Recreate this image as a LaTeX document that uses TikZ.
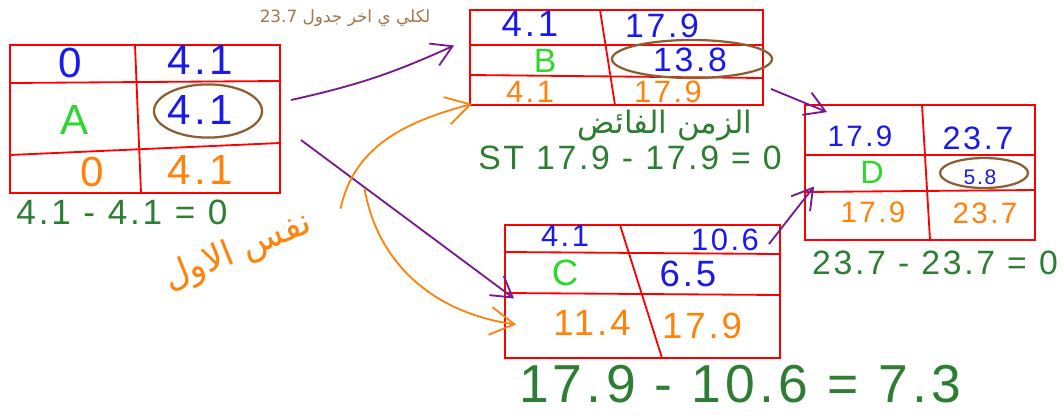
\documentclass[tikz,border=0pt]{standalone}
\usepackage{fontspec}
\setmainfont{Liberation Sans}
\newfontfamily\handfont[LetterSpace=8]{Liberation Sans}
\newfontfamily\arabicfont[Script=Arabic]{DejaVu Sans}
\TeXXeTstate=1
\usepackage{tikz}
\usetikzlibrary{arrows.meta, positioning, shapes.geometric}

\definecolor{esblue}{RGB}{25,25,235}
\definecolor{namegreen}{RGB}{45,215,45}
\definecolor{lforange}{RGB}{255,130,10}
\definecolor{calcgreen}{RGB}{45,125,50}
\definecolor{flowpurple}{RGB}{120,25,145}
\definecolor{ringbrown}{RGB}{140,95,50}
\definecolor{notetan}{RGB}{160,120,75}

\tikzset{
  pertbox/.style={draw=red, line width=1.3pt, inner sep=0pt},
  gridln/.style={red, line width=1.3pt},
  early/.style={text=esblue, inner sep=1pt},
  late/.style={text=lforange, inner sep=1pt},
  actname/.style={text=namegreen, inner sep=1pt},
  ring/.style={draw=ringbrown, ellipse, line width=1.6pt, inner sep=0pt},
  calc/.style={text=calcgreen, inner sep=1pt},
  flow/.style={flowpurple, line width=1.3pt, -{Straight Barb[length=5mm,width=6mm]}},
  lateflow/.style={lforange, line width=1.3pt, -{Straight Barb[length=6mm,width=7mm]}}
}
\newcommand{\hsz}[1]{\handfont\fontsize{#1}{#1}\selectfont}

\begin{document}
\begin{tikzpicture}[x=0.025cm, y=-0.025cm]
\useasboundingbox (0,0) rectangle (1064,415);

% note on top
\node[text=notetan, font=\fontsize{12}{14}\selectfont] (note) at (345,18)
  {\arabicfont\beginR لكلي ي اخر جدول \beginL23.7\endL\endR};

% activity A
\node[pertbox, minimum width=6.75cm, minimum height=3.7cm] (tA) at (145,119) {};
\draw[gridln] (135,45) -- (141,193);
\draw[gridln] (10,83) -- (280,81);
\draw[gridln] (10,155) -- (280,143);
\node[early, font=\hsz{30}] (esA) at (70,63) {0};
\node[early, font=\hsz{30}] (efA) at (200,60) {4.1};
\node[actname, font=\hsz{30}] (nA) at (75,120) {A};
\node[early, font=\hsz{30}] (duA) at (200,110) {4.1};
\node[ring, minimum width=2.7cm, minimum height=1.33cm] (rA) at (208,111) {};
\node[late, font=\hsz{30}] (lsA) at (92,172) {0};
\node[late, font=\hsz{30}] (lfA) at (200,170) {4.1};
\node[calc, font=\hsz{25}] (eqA) at (122,212) {4.1 - 4.1 = 0};

% activity B
\node[pertbox, minimum width=7.325cm, minimum height=2.375cm] (tB) at (616.5,57.5) {};
\draw[gridln] (600,10) -- (615,105);
\draw[gridln] (470,45) -- (763,45);
\draw[gridln] (470,75) -- (763,78);
\node[early, font=\hsz{26}] (esB) at (530,24) {4.1};
\node[early, font=\hsz{24}] (efB) at (662,26) {17.9};
\node[actname, font=\hsz{24}] (nB) at (545,61) {B};
\node[early, font=\hsz{24}] (duB) at (690,60) {13.8};
\node[ring, minimum width=4cm, minimum height=0.95cm] (rB) at (692,59) {};
\node[late, font=\hsz{22}] (lsB) at (530,92) {4.1};
\node[late, font=\hsz{22}] (lfB) at (668,92) {17.9};
\node[calc, font=\arabicfont\fontsize{22}{24}\selectfont] (slack) at (665,126)
  {\beginR الزمن الفائض\endR};
\node[calc, font=\hsz{24}] (eqB) at (630,158) {ST 17.9 - 17.9 = 0};

% activity C
\node[pertbox, minimum width=6.875cm, minimum height=3.325cm] (tC) at (642.5,291.5) {};
\draw[gridln] (620,225) -- (662,358);
\draw[gridln] (505,252) -- (780,254);
\draw[gridln] (505,293) -- (780,295);
\node[early, font=\hsz{22}] (esC) at (565,236) {4.1};
\node[early, font=\hsz{22}] (efC) at (725,240) {10.6};
\node[actname, font=\hsz{26}] (nC) at (565,273) {C};
\node[early, font=\hsz{26}] (duC) at (688,274) {6.5};
\node[late, font=\hsz{26}] (lsC) at (592,323) {11.4};
\node[late, font=\hsz{26}] (lfC) at (702,326) {17.9};
\node[calc, font=\hsz{38}] (eqC) at (740,384) {17.9 - 10.6 = 7.3};

% activity D
\node[pertbox, minimum width=5.75cm, minimum height=3.375cm] (tD) at (920,172.5) {};
\draw[gridln] (922,105) -- (930,240);
\draw[gridln] (805,155) -- (1035,155);
\draw[gridln] (805,192) -- (1035,190);
\node[early, font=\hsz{21}] (esD) at (860,136) {17.9};
\node[early, font=\hsz{23}] (efD) at (978,138) {23.7};
\node[actname, font=\hsz{23}] (nD) at (872,172) {D};
\node[early, font=\hsz{15}] (duD) at (980,177) {5.8};
\node[ring, minimum width=2.2cm, minimum height=0.75cm] (rD) at (984,173) {};
\node[late, font=\hsz{21}] (lsD) at (873,212) {17.9};
\node[late, font=\hsz{21}] (lfD) at (985,213) {23.7};
\node[calc, font=\hsz{24}] (eqD) at (935,263) {23.7 - 23.7 = 0};

% orange note
\node[text=lforange, rotate=22, inner sep=0pt, font=\arabicfont\fontsize{25}{27}\selectfont] (lateNote) at (238,252)
  {\beginR نفس الاول\endR};

% connectors
\draw[flow] ([shift={(10,-19)}]tA.east) to[bend right=6] ([shift={(-15,-12)}]tB.west);
\draw[flow] ([shift={(20,21)}]tA.east) -- ([shift={(10,7)}]tC.west);
\draw[flow] ([shift={(7,-17)}]tB.south east) -- ([shift={(23,8)}]tD.north west);
\draw[flow] ([shift={(-12,20)}]tC.north east) -- ([shift={(10,14)}]tD.west);
\draw[lateflow] ([shift={(30,-14)}]lateNote.east) to[out=78, in=195] ([shift={(3,-2)}]tB.south west);
\draw[lateflow] ([shift={(54,-34)}]lateNote.east) to[out=-80, in=172] ([shift={(12,33)}]tC.west);
\end{tikzpicture}
\end{document}
